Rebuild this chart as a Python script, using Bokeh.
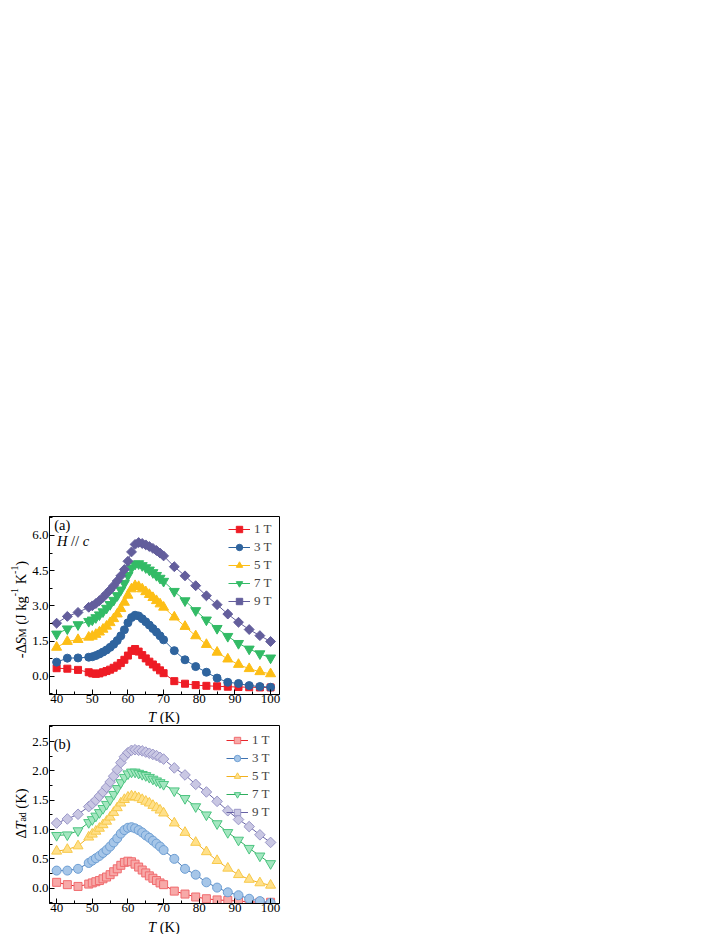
from math import pi
from bokeh.plotting import figure
from bokeh.models import Range1d, FixedTicker, PrintfTickFormatter, Label, Legend, LegendItem
from bokeh.layouts import column, row
from bokeh.embed import file_html
from bokeh.resources import INLINE

# ---------------- data ----------------
T = [40, 43, 46] + list(range(49, 71)) + list(range(73, 101, 3))

ds_1T = [0.34, 0.32, 0.27,
         0.17, 0.12, 0.10, 0.12, 0.17, 0.22, 0.28, 0.36, 0.45, 0.56, 0.70, 0.88, 1.08, 1.16, 1.05, 0.90, 0.76, 0.62, 0.50, 0.38, 0.25, 0.13,
         -0.21, -0.32, -0.38, -0.41, -0.43, -0.45, -0.46, -0.47, -0.48, -0.48]
ds_3T = [0.60, 0.77, 0.78,
         0.81, 0.83, 0.88, 0.95, 1.03, 1.12, 1.23, 1.36, 1.52, 1.72, 1.98, 2.28, 2.50, 2.60, 2.57, 2.45, 2.32, 2.18, 2.03, 1.88, 1.72, 1.55,
         1.09, 0.70, 0.41, 0.17, -0.08, -0.26, -0.31, -0.40, -0.44, -0.47]
ds_5T = [1.23, 1.48, 1.56,
         1.66, 1.70, 1.78, 1.88, 2.00, 2.13, 2.28, 2.45, 2.65, 2.88, 3.15, 3.45, 3.72, 3.86, 3.82, 3.72, 3.60, 3.48, 3.35, 3.22, 3.08, 2.94,
         2.52, 2.12, 1.72, 1.35, 1.02, 0.73, 0.50, 0.32, 0.19, 0.10]
ds_7T = [1.80, 2.02, 2.20,
         2.34, 2.40, 2.50, 2.62, 2.75, 2.90, 3.06, 3.24, 3.44, 3.68, 3.96, 4.30, 4.62, 4.78, 4.80, 4.72, 4.63, 4.53, 4.42, 4.30, 4.18, 4.05,
         3.62, 3.22, 2.80, 2.40, 2.04, 1.70, 1.40, 1.16, 0.96, 0.78]
ds_9T = [2.26, 2.55, 2.72,
         2.94, 3.00, 3.10, 3.22, 3.36, 3.52, 3.68, 3.86, 4.06, 4.28, 4.55, 4.90, 5.30, 5.62, 5.70, 5.66, 5.60, 5.53, 5.45, 5.36, 5.25, 5.13,
         4.67, 4.28, 3.86, 3.43, 3.05, 2.65, 2.30, 1.99, 1.73, 1.48]

dt_1T = [0.10, 0.06, 0.03,
         0.07, 0.09, 0.11, 0.13, 0.16, 0.19, 0.23, 0.28, 0.33, 0.39, 0.44, 0.46, 0.45, 0.41, 0.36, 0.31, 0.26, 0.21, 0.17, 0.13, 0.09, 0.06,
         -0.05, -0.10, -0.15, -0.18, -0.20, -0.21, -0.22, -0.23, -0.24, -0.24]
dt_3T = [0.30, 0.30, 0.33,
         0.43, 0.47, 0.51, 0.55, 0.60, 0.65, 0.71, 0.78, 0.85, 0.93, 0.99, 1.03, 1.04, 1.02, 0.99, 0.95, 0.90, 0.86, 0.81, 0.76, 0.71, 0.65,
         0.50, 0.33, 0.23, 0.10, 0.01, -0.07, -0.12, -0.18, -0.22, -0.25]
dt_5T = [0.63, 0.66, 0.72,
         0.87, 0.92, 0.97, 1.02, 1.08, 1.14, 1.21, 1.29, 1.37, 1.45, 1.51, 1.55, 1.57, 1.56, 1.54, 1.51, 1.48, 1.45, 1.41, 1.37, 1.33, 1.28,
         1.11, 0.95, 0.78, 0.62, 0.47, 0.34, 0.23, 0.15, 0.09, 0.05]
dt_7T = [0.90, 0.91, 0.98,
         1.12, 1.17, 1.23, 1.29, 1.36, 1.43, 1.51, 1.60, 1.70, 1.80, 1.89, 1.95, 1.98, 1.98, 1.96, 1.94, 1.92, 1.89, 1.86, 1.83, 1.80, 1.77,
         1.66, 1.53, 1.39, 1.25, 1.10, 0.95, 0.82, 0.68, 0.55, 0.42]
dt_9T = [1.11, 1.18, 1.26,
         1.39, 1.44, 1.50, 1.57, 1.64, 1.72, 1.81, 1.91, 2.02, 2.14, 2.24, 2.31, 2.35, 2.36, 2.35, 2.34, 2.32, 2.30, 2.28, 2.26, 2.23, 2.20,
         2.05, 1.93, 1.77, 1.64, 1.48, 1.32, 1.17, 1.05, 0.91, 0.78]

field_labels = ["1 T", "3 T", "5 T", "7 T", "9 T"]
x_ticks = [40, 50, 60, 70, 80, 90, 100]
ya_ticks = [0.0, 1.5, 3.0, 4.5, 6.0]
yb_ticks = [0.0, 0.5, 1.0, 1.5, 2.0, 2.5]

FONT = "Liberation Serif"
LBL = 14.5   # axis-label font size (px)

# ---------------- helpers ----------------
W_REG = {' ': 250, '(': 333, ')': 333, '-': 333, '/': 278, 'J': 389, 'K': 722, 'T': 611,
         'k': 500, 'g': 500, 'a': 444, 'd': 500, 'M': 889, 'S': 556, 'H': 722, 'c': 444,
         '1': 500, 'Δ': 612}
W_IT = {'T': 556, 'S': 500, 'H': 722, 'c': 444, ' ': 250, '/': 278}


def tw(s, size, italic):
    tab = W_IT if italic else W_REG
    return sum(tab.get(ch, W_REG.get(ch, 500)) for ch in s) * size / 1000.0


def rich(p, x, y, pieces, size, vertical=False, center=True, base_dx=0.0, base_dy=0.0):
    def fsz(sh):
        return size * (0.68 if sh else 1.0)
    total = sum(tw(t, fsz(sh), it) for t, it, sh in pieces)
    pos = -total / 2.0 if center else 0.0
    for t, it, sh in pieces:
        fs = fsz(sh)
        shift = {0: 0.0, -1: -0.1 * size, 1: 0.42 * size}[sh]
        lead = len(t) - len(t.lstrip(' '))
        lead_w = tw(t[:lead], fs, it)
        txt = t.strip(' ')
        if vertical:
            xo = base_dx - shift
            yo = base_dy + pos + lead_w
            ang = pi / 2
        else:
            xo = base_dx + pos + lead_w
            yo = base_dy + shift
            ang = 0
        p.add_layout(Label(x=x, y=y, x_offset=xo, y_offset=yo, text=txt, angle=ang,
                           text_align='left', text_baseline='alphabetic',
                           text_font=FONT, text_font_style='italic' if it else 'normal',
                           text_font_size=f'{fs:.1f}px', text_color='black'))
        pos += tw(t, fs, it)


def text_fig(w, h):
    f = figure(width=w, height=h, x_range=Range1d(0, w), y_range=Range1d(0, h),
               output_backend="svg", toolbar_location=None, x_axis_type=None, y_axis_type=None,
               min_border=0, min_border_left=0, min_border_right=0, min_border_top=0,
               min_border_bottom=0, title=None, frame_align=False)
    f.outline_line_color = None
    f.background_fill_color = "white"
    f.border_fill_color = "white"
    return f


X0, X1 = 38.0, 102.5
LEFT_W = 29          # width of the y-label strip
MAIN_W = 269         # 18 + 232 + 19


def make_fig(height, top, bottom, yr, yticks, yminor):
    p = figure(width=MAIN_W, height=height, x_range=Range1d(X0, X1), y_range=Range1d(*yr),
               output_backend="svg", toolbar_location=None, frame_align=False,
               min_border_left=18, min_border_right=19, min_border_top=top,
               min_border_bottom=bottom)
    p.xgrid.visible = False
    p.ygrid.visible = False
    p.outline_line_color = "black"
    p.outline_line_width = 1
    p.outline_line_alpha = 1
    p.xaxis.ticker = FixedTicker(ticks=x_ticks, minor_ticks=[45, 55, 65, 75, 85, 95])
    p.yaxis.ticker = FixedTicker(ticks=yticks, minor_ticks=yminor)
    p.yaxis.formatter = PrintfTickFormatter(format="%.1f")
    for ax in (p.xaxis[0], p.yaxis[0]):
        ax.axis_line_color = "black"
        ax.major_tick_line_color = "black"
        ax.minor_tick_line_color = "black"
        ax.major_tick_in = 5
        ax.major_tick_out = 0
        ax.minor_tick_in = 3
        ax.minor_tick_out = 0
        ax.major_label_text_font = FONT
        ax.major_label_text_font_size = "13px"
        ax.major_label_text_color = "black"
    p.xaxis.major_label_standoff = 0
    p.yaxis.major_label_standoff = 1
    p.background_fill_color = "white"
    p.border_fill_color = "white"
    return p


def add_series(p, ys_list, markers, fills, edges, lines, sizes, angles, legend_margin):
    items = []
    for ys, mk, fc, ec, lc, sz, ang, lab in zip(ys_list, markers, fills, edges, lines, sizes, angles, field_labels):
        r1 = p.line(T, ys, line_color=lc, line_width=1)
        r2 = p.scatter(T, ys, marker=mk, size=sz, angle=ang, fill_color=fc, line_color=ec, line_width=1)
        items.append(LegendItem(label=lab, renderers=[r1, r2]))
    leg = Legend(items=items, location="top_right", border_line_alpha=0, background_fill_alpha=0,
                 label_text_font=FONT, label_text_font_size="13px", glyph_width=22,
                 glyph_height=16, label_height=16, spacing=2, padding=5, margin=legend_margin,
                 label_standoff=4)
    p.add_layout(leg)


# ---------------- panel (a) ----------------
HA = 516 + 178 + 14
ya_range = (-0.78, 6.81)
pa = make_fig(HA, 516, 14, ya_range, ya_ticks, [-0.75, 0.75, 2.25, 3.75, 5.25, 6.75])
add_series(pa, [ds_1T, ds_3T, ds_5T, ds_7T, ds_9T],
           ["square", "circle", "triangle", "inverted_triangle", "square"],
           ["#EE1C25", "#2F649E", "#FDBE16", "#33BB66", "#635E9C"],
           ["#EE1C25", "#2F649E", "#FDBE16", "#33BB66", "#635E9C"],
           ["#EE1C25", "#2F649E", "#FDBE16", "#33BB66", "#635E9C"],
           [7, 8, 10, 10, 7], [0, 0, 0, 0, pi / 4], 0)

pa.add_layout(Label(x=39.3, y=6.43, text="(a)", text_font=FONT, text_font_size=f"{LBL}px",
                    text_align="left", text_baseline="middle", text_color="black"))
rich(pa, 40.1, 5.744, [("H", True, 0), (" // ", False, 0), ("c", True, 0)], LBL, center=False)

ylab_a = text_fig(LEFT_W, HA)
rich(ylab_a, 20.5, HA - 609, [("-Δ", False, 0), ("S", True, 0), ("M", False, -1), (" (J kg", False, 0),
                              ("-1", False, 1), (" K", False, 0), ("-1", False, 1), (")", False, 0)],
     LBL, vertical=True)

XA_H = 16
xlab_a = text_fig(LEFT_W + MAIN_W, XA_H)
rich(xlab_a, 163.5, 8, [("T", True, 0), (" (K)", False, 0)], LBL)

# ---------------- panel (b) ----------------
HB = 1 + 178 + 15
yb_range = (-0.261, 2.773)
pb = make_fig(HB, 1, 15, yb_range, yb_ticks, [-0.25, 0.25, 0.75, 1.25, 1.75, 2.25, 2.75])
add_series(pb, [dt_1T, dt_3T, dt_5T, dt_7T, dt_9T],
           ["square", "circle", "triangle", "inverted_triangle", "square"],
           ["#F7A9A8", "#A6C6E8", "#FFE08A", "#A4E6C0", "#C9C7E3"],
           ["#F06B6E", "#6E9FD4", "#F8C94A", "#4CC581", "#9A97C8"],
           ["#E8262B", "#3F72B0", "#F2B01E", "#2EAE5E", "#6762A5"],
           [8, 9, 10, 10, 7.5], [0, 0, 0, 0, pi / 4], 2)

pb.add_layout(Label(x=39.2, y=2.458, text="(b)", text_font=FONT, text_font_size=f"{LBL}px",
                    text_align="left", text_baseline="middle", text_color="black"))

ylab_b = text_fig(LEFT_W, HB)
rich(ylab_b, 20.5, (724 + HB) - 813, [("Δ", False, 0), ("T", True, 0), ("ad", False, -1), (" (K)", False, 0)],
     LBL, vertical=True)

XB_H = 16
xlab_b = text_fig(LEFT_W + MAIN_W, XB_H)
rich(xlab_b, 163.5, 8, [("T", True, 0), (" (K)", False, 0)], LBL)

layout = column(row(ylab_a, pa, spacing=0), xlab_a, row(ylab_b, pb, spacing=0), xlab_b, spacing=0)
open("out.html", "w").write(file_html(layout, INLINE))
